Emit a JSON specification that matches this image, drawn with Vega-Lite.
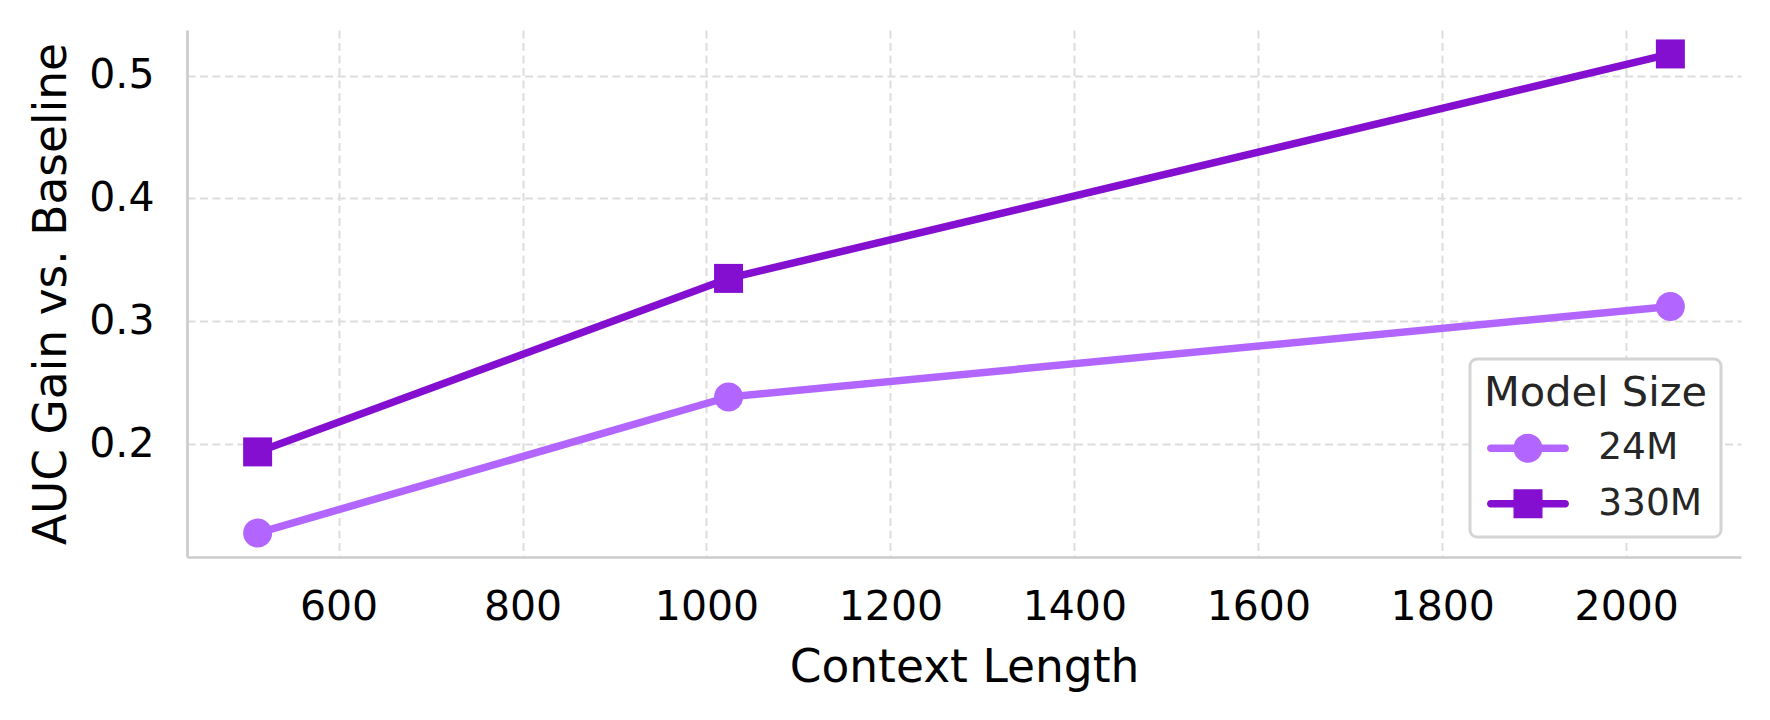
{
  "$schema": "https://vega.github.io/schema/vega-lite/v6.json",
  "autosize": {"type": "none"},
  "padding": {"left": 187, "top": 30, "right": 29, "bottom": 163},
  "width": 1554,
  "height": 527,
  "background": "white",
  "config": {
    "view": {"stroke": null},
    "font": "DejaVu Sans",
    "axis": {
      "domainColor": "#cccccc",
      "domainWidth": 2.7,
      "ticks": false,
      "gridColor": "#dddddd",
      "gridWidth": 2,
      "gridDash": [8, 4.5],
      "labelFont": "DejaVu Sans",
      "labelFontSize": 41,
      "labelColor": "#000000",
      "labelPadding": 33,
      "titleFont": "DejaVu Sans",
      "titleFontSize": 45.5,
      "titleFontWeight": "normal",
      "titleColor": "#000000"
    },
    "legend": {
      "titleFont": "DejaVu Sans",
      "labelFont": "DejaVu Sans"
    }
  },
  "data": {
    "values": [
      {"context": 512, "gain": 0.1275, "model": "24M"},
      {"context": 1024, "gain": 0.2383, "model": "24M"},
      {"context": 2048, "gain": 0.3121, "model": "24M"},
      {"context": 512, "gain": 0.1936, "model": "330M"},
      {"context": 1024, "gain": 0.3349, "model": "330M"},
      {"context": 2048, "gain": 0.5177, "model": "330M"}
    ]
  },
  "encoding": {
    "x": {
      "field": "context",
      "type": "quantitative",
      "title": "Context Length",
      "scale": {"domain": [435.2, 2124.8], "nice": false, "zero": false},
      "axis": {"values": [600, 800, 1000, 1200, 1400, 1600, 1800, 2000], "format": "d", "labelPadding": 30, "titlePadding": 18}
    },
    "y": {
      "field": "gain",
      "type": "quantitative",
      "title": "AUC Gain vs. Baseline",
      "scale": {"domain": [0.108, 0.5372], "nice": false, "zero": false},
      "axis": {"values": [0.2, 0.3, 0.4, 0.5], "format": ".1f", "titlePadding": 13}
    },
    "color": {
      "field": "model",
      "type": "nominal",
      "title": "Model Size",
      "scale": {"domain": ["24M", "330M"], "range": ["#b266ff", "#840fd0"]},
      "legend": {
        "orient": "bottom-right",
        "offset": 20,
        "padding": 14,
        "fillColor": "white",
        "strokeColor": "#d4d4d4",
        "cornerRadius": 7,
        "titleFontSize": 41.5,
        "titleFontWeight": "normal",
        "titleColor": "#262626",
        "titlePadding": 15,
        "titleLimit": 600,
        "labelFontSize": 37.5,
        "labelColor": "#262626",
        "labelLimit": 600,
        "rowPadding": 16.5,
        "symbolSize": 462.25,
        "symbolStrokeWidth": 0,
        "symbolOpacity": 1,
        "symbolOffset": 25.25,
        "labelOffset": 51.5,
        "encode": {
          "legend": {
            "update": {"strokeWidth": {"value": 3}}
          },
          "symbols": {
            "update": {
              "shape": {"signal": "datum.value === '24M' ? 'M-3.46,-0.35L3.46,-0.35A0.35,0.35,0,0,1,3.46,0.35L-3.46,0.35A0.35,0.35,0,0,1,-3.46,-0.35ZM1.35,0A1.35,1.35,0,1,1,-1.35,0A1.35,1.35,0,1,1,1.35,0Z' : 'M-3.46,-0.35L3.46,-0.35A0.35,0.35,0,0,1,3.46,0.35L-3.46,0.35A0.35,0.35,0,0,1,-3.46,-0.35ZM-1.35,-1.35L1.35,-1.35L1.35,1.35L-1.35,1.35Z'"}
            }
          }
        }
      }
    }
  },
  "layer": [
    {
      "mark": {"type": "line", "strokeWidth": 7.5, "strokeJoin": "round"}
    },
    {
      "transform": [{"filter": "datum.model === '24M'"}],
      "mark": {"type": "point", "shape": "circle", "filled": true, "size": 841, "opacity": 1, "strokeWidth": 0}
    },
    {
      "transform": [{"filter": "datum.model === '330M'"}],
      "mark": {"type": "point", "shape": "square", "filled": true, "size": 841, "opacity": 1, "strokeWidth": 0}
    }
  ]
}
